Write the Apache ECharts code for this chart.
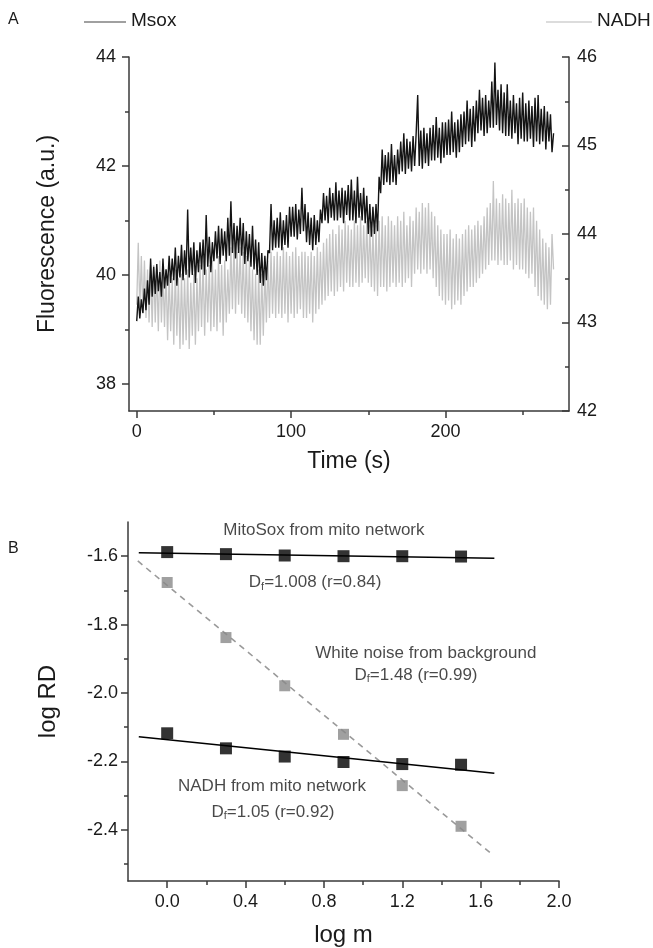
<!DOCTYPE html>
<html><head><meta charset="utf-8">
<script src="https://cdn.jsdelivr.net/npm/echarts@6/dist/echarts.min.js"></script>
<style>html,body{margin:0;padding:0;background:#fff}#c{width:653px;height:948px}</style>
</head><body><div id="c"></div>
<script>
// ---------- Panel A data (one value per second, t = 0..270 s) ----------
const msoxValues = [
39.15,39.6,39.2,39.55,39.3,39.75,39.35,39.9,39.45,40.3,
39.6,40.15,39.65,40.2,39.7,40.05,39.6,40.3,39.75,40.1,
39.8,40.35,39.85,40.3,39.9,40.5,39.8,40.35,39.95,40.55,
39.9,40.45,40.0,41.2,39.95,40.5,40.0,40.6,39.85,40.45,
40.05,40.6,40.1,40.65,40.0,41.1,40.15,40.7,40.05,40.6,
40.25,40.8,40.3,40.9,40.2,40.85,40.35,40.8,40.25,41.05,
40.35,41.35,40.4,40.95,40.3,40.9,40.4,41.05,40.35,40.95,
40.2,40.8,40.25,40.75,40.15,40.9,40.1,40.65,40.0,40.6,
39.85,40.4,39.8,40.35,39.9,40.45,40.4,41.3,40.45,41.0,
40.5,41.05,40.5,41.15,40.45,41.0,40.55,41.1,40.5,41.25,
40.7,41.25,40.7,41.3,40.65,41.2,40.75,41.6,40.8,41.3,
40.6,41.15,40.55,41.05,40.45,41.1,40.55,41.0,40.6,41.2,
40.95,41.5,41.0,41.45,40.95,41.6,41.05,41.5,41.0,41.7,
41.0,41.55,41.05,41.6,40.95,41.55,41.1,41.65,41.0,41.75,
41.0,41.55,40.95,41.8,41.05,41.5,41.0,41.6,40.95,41.45,
40.75,41.3,40.7,41.25,40.75,41.3,40.8,41.8,41.5,42.3,
41.65,42.2,41.7,42.25,41.65,42.4,41.7,42.2,41.65,42.3,
41.85,42.45,41.9,42.6,41.85,42.5,41.95,42.45,41.9,42.55,
42.0,42.6,43.3,42.0,42.65,41.95,42.7,42.05,42.6,42.0,
42.7,42.1,42.75,42.1,42.9,42.15,42.7,42.05,42.8,42.15,
42.8,42.2,42.85,42.2,43.0,42.25,42.8,42.15,42.85,42.25,
42.95,42.35,43.0,42.4,43.2,42.45,43.05,42.35,43.1,42.45,
43.2,42.6,43.4,42.65,43.25,42.55,43.3,42.6,43.2,42.7,
43.55,42.7,43.9,42.75,43.4,42.65,43.5,42.6,43.35,42.55,
43.5,42.55,43.2,42.5,43.3,42.6,43.15,42.4,43.25,42.5,
43.35,42.45,43.15,42.45,43.2,42.5,43.1,42.35,43.25,42.45,
43.3,42.4,43.05,42.45,43.1,42.3,43.0,42.45,42.95,42.25,42.6
];
const nadhValues = [
43.2,43.9,43.15,43.75,43.1,43.7,43.05,43.6,43.0,43.65,
42.95,43.65,43.0,43.6,42.9,43.7,43.0,43.55,42.95,43.6,
42.8,43.55,42.9,43.5,42.75,43.6,42.85,43.5,42.7,43.55,
42.75,43.5,42.8,43.6,42.7,43.45,42.85,43.55,42.75,43.5,
42.9,43.65,42.95,43.7,42.85,43.6,43.0,43.65,42.9,43.7,
42.95,43.6,42.9,43.75,43.0,43.65,42.85,43.7,43.0,43.6,
43.1,43.85,43.15,43.9,43.1,43.8,43.2,43.85,43.1,43.8,
43.05,43.75,43.0,43.7,42.9,43.6,42.8,43.55,42.75,43.6,
42.75,43.55,42.85,43.6,43.0,43.7,43.05,43.8,43.1,43.75,
43.05,43.8,43.1,43.75,43.05,43.85,43.1,43.8,43.0,43.75,
43.1,43.8,43.05,43.85,43.1,43.75,43.15,43.8,43.05,43.8,
43.05,43.75,43.1,43.8,43.0,43.75,43.1,43.85,43.15,43.8,
43.2,43.9,43.25,43.95,43.3,44.0,43.35,44.05,43.3,44.0,
43.35,44.1,43.4,44.05,43.35,44.15,43.45,44.1,43.4,44.05,
43.4,44.15,43.45,44.1,43.4,44.2,43.45,44.1,43.5,44.15,
43.45,44.1,43.4,44.05,43.35,44.1,43.3,44.15,43.4,44.2,
43.4,44.1,43.35,44.2,43.4,44.15,43.45,44.1,43.4,44.2,
43.45,44.15,43.4,44.25,43.45,44.1,43.5,44.2,43.4,44.15,
43.55,44.3,43.6,44.25,43.55,44.35,43.6,44.3,43.55,44.35,
43.6,44.25,43.5,44.2,43.4,44.1,43.3,44.05,43.25,44.0,
43.2,44.0,43.25,44.05,43.15,43.95,43.2,44.0,43.25,43.95,
43.2,44.0,43.3,44.05,43.35,44.1,43.4,44.05,43.4,44.1,
43.45,44.15,43.5,44.1,43.55,44.2,43.6,44.3,43.65,44.35,
43.7,44.6,43.7,44.4,43.65,44.35,43.7,44.45,43.65,44.4,
43.65,44.35,43.7,44.5,43.6,44.35,43.65,44.4,43.6,44.35,
43.6,44.4,43.55,44.3,43.5,44.25,43.55,44.3,43.4,44.15,
43.3,44.05,43.25,43.95,43.2,43.9,43.15,43.85,43.2,44.0,43.6
];
const timeTicksMajor = [0, 100, 200];
const timeTicksMinor = [50, 150, 250];
const leftTicksMajor = [38, 40, 42, 44];
const leftTicksMinor = [39, 41, 43];
const rightTicksMajor = [42, 43, 44, 45, 46];
const rightTicksMinor = [42.5, 43.5, 44.5, 45.5];

// ---------- Panel B data ----------
const logM = [0, 0.3, 0.6, 0.9, 1.2, 1.5];
const mitoSoxRD = [-1.588, -1.594, -1.598, -1.600, -1.600, -1.601];
const whiteNoiseRD = [-1.677, -1.838, -1.979, -2.121, -2.271, -2.390];
const nadhRD = [-2.118, -2.162, -2.186, -2.202, -2.208, -2.210];
const mitoSoxFit = [[-0.145, -1.590], [1.67, -1.606]];
const whiteNoiseFit = [[-0.15, -1.614], [1.65, -2.468]];
const nadhFit = [[-0.145, -2.128], [1.67, -2.235]];
const logMTicksMajor = [0, 0.4, 0.8, 1.2, 1.6, 2.0];
const logMTicksMinor = [0.2, 0.6, 1.0, 1.4, 1.8];
const logRDTicksMajor = [-1.6, -1.8, -2.0, -2.2, -2.4];
const logRDTicksMinor = [-1.7, -1.9, -2.1, -2.3, -2.5];
const annotations = [
  {x: 0.80, y: -1.523, text: 'MitoSox from mito network'},
  {x: 0.755, y: -1.677, text: 'D{s|f}=1.008 (r=0.84)'},
  {x: 1.32, y: -1.883, text: 'White noise from background'},
  {x: 1.27, y: -1.947, text: 'D{s|f}=1.48 (r=0.99)'},
  {x: 0.535, y: -2.272, text: 'NADH from mito network'},
  {x: 0.54, y: -2.348, text: 'D{s|f}=1.05 (r=0.92)'}
];

const FONT = '"Liberation Sans", Arial, Helvetica, sans-serif';
const AX = '#3a3a3a';
const TXT = '#1a1a1a';

const msoxData = msoxValues.map((v, i) => [i, v]);
const nadhData = nadhValues.map((v, i) => [i, v]);
const pts = (ys) => logM.map((x, i) => [x, ys[i]]);

function mainAxis(extra) {
  return Object.assign({
    type: 'value', scale: false,
    axisLine: {show: true, onZero: false, lineStyle: {color: AX, width: 1.5}},
    axisTick: {show: true, length: 7, lineStyle: {color: AX, width: 1.5}},
    axisLabel: {color: TXT, fontSize: 18, fontFamily: FONT},
    splitLine: {show: false},
    nameTextStyle: {color: TXT, fontFamily: FONT}
  }, extra);
}
function minorAxis(extra, ticks, inside) {
  return Object.assign({
    type: 'value',
    axisLine: {show: false, onZero: false},
    axisTick: {show: true, length: 4, inside: !!inside, customValues: ticks, lineStyle: {color: AX, width: 1.5}},
    axisLabel: {show: false},
    splitLine: {show: false}
  }, extra);
}

const chart = echarts.init(document.getElementById('c'), null, {renderer: 'canvas'});
chart.setOption({
  backgroundColor: '#fff',
  animation: false,
  textStyle: {fontFamily: FONT},
  grid: [
    {left: 129, top: 57, width: 440, height: 354},
    {left: 128, top: 522, width: 431, height: 360}
  ],
  xAxis: [
    mainAxis({gridIndex: 0, min: -5, max: 280, position: 'bottom',
      axisTick: {show: true, length: 7, customValues: timeTicksMajor, lineStyle: {color: AX, width: 1.5}},
      axisLabel: {color: TXT, fontSize: 18, fontFamily: FONT, margin: 12, customValues: timeTicksMajor},
      name: 'Time (s)', nameLocation: 'middle', nameGap: 39,
      nameTextStyle: {color: TXT, fontFamily: FONT, fontSize: 23}}),
    minorAxis({gridIndex: 0, min: -5, max: 280, position: 'bottom'}, timeTicksMinor),
    mainAxis({gridIndex: 1, min: -0.2, max: 2.0, position: 'bottom',
      axisTick: {show: true, length: 7, customValues: logMTicksMajor, lineStyle: {color: AX, width: 1.5}},
      axisLabel: {color: TXT, fontSize: 18, fontFamily: FONT, margin: 12, customValues: logMTicksMajor,
        formatter: v => Number(v).toFixed(1)},
      name: 'log m', nameLocation: 'middle', nameGap: 42,
      nameTextStyle: {color: TXT, fontFamily: FONT, fontSize: 24}}),
    minorAxis({gridIndex: 1, min: -0.2, max: 2.0, position: 'bottom'}, logMTicksMinor)
  ],
  yAxis: [
    mainAxis({gridIndex: 0, min: 37.5, max: 44, position: 'left',
      axisTick: {show: true, length: 7, customValues: leftTicksMajor, lineStyle: {color: AX, width: 1.5}},
      axisLabel: {color: TXT, fontSize: 18, fontFamily: FONT, margin: 13, customValues: leftTicksMajor},
      name: 'Fluorescence (a.u.)', nameLocation: 'middle', nameGap: 70,
      nameTextStyle: {color: TXT, fontFamily: FONT, fontSize: 23}}),
    minorAxis({gridIndex: 0, min: 37.5, max: 44, position: 'left'}, leftTicksMinor),
    mainAxis({gridIndex: 0, min: 42, max: 46, position: 'right',
      axisTick: {show: true, inside: true, length: 7, customValues: rightTicksMajor, lineStyle: {color: AX, width: 1.5}},
      axisLabel: {color: TXT, fontSize: 18, fontFamily: FONT, margin: 8, customValues: rightTicksMajor}}),
    minorAxis({gridIndex: 0, min: 42, max: 46, position: 'right'}, rightTicksMinor, true),
    mainAxis({gridIndex: 1, min: -2.55, max: -1.5, position: 'left',
      axisTick: {show: true, length: 7, customValues: logRDTicksMajor, lineStyle: {color: AX, width: 1.5}},
      axisLabel: {color: TXT, fontSize: 18, fontFamily: FONT, margin: 10, customValues: logRDTicksMajor,
        formatter: v => Number(v).toFixed(1)},
      name: 'log RD', nameLocation: 'middle', nameGap: 68,
      nameTextStyle: {color: TXT, fontFamily: FONT, fontSize: 24}}),
    minorAxis({gridIndex: 1, min: -2.55, max: -1.5, position: 'left'}, logRDTicksMinor)
  ],
  graphic: [
    {type: 'text', left: 8, top: 12, style: {text: 'A', fontSize: 16, fontFamily: FONT, fill: TXT}},
    {type: 'text', left: 8, top: 541, style: {text: 'B', fontSize: 16, fontFamily: FONT, fill: TXT}},
    {type: 'line', shape: {x1: 84, y1: 22, x2: 126, y2: 22}, style: {stroke: '#808080', lineWidth: 1.5}},
    {type: 'text', left: 131, top: 11, style: {text: 'Msox', fontSize: 19, fontFamily: FONT, fill: TXT}},
    {type: 'line', shape: {x1: 546, y1: 22, x2: 592, y2: 22}, style: {stroke: '#d0d0d0', lineWidth: 1.5}},
    {type: 'text', left: 597, top: 11, style: {text: 'NADH', fontSize: 19, fontFamily: FONT, fill: TXT}}
  ],
  series: [
    {name: 'NADH', type: 'line', xAxisIndex: 0, yAxisIndex: 2, data: nadhData, showSymbol: false, symbol: 'none',
      lineStyle: {color: '#c4c4c4', width: 1.3}, z: 2, silent: true},
    {name: 'Msox', type: 'line', xAxisIndex: 0, yAxisIndex: 0, data: msoxData, showSymbol: false, symbol: 'none',
      lineStyle: {color: '#141414', width: 1.4}, z: 3, silent: true},
    {name: 'MitoSox fit', type: 'line', xAxisIndex: 2, yAxisIndex: 4, data: mitoSoxFit, symbol: 'none',
      lineStyle: {color: '#000', width: 1.6}, z: 3},
    {name: 'NADH fit', type: 'line', xAxisIndex: 2, yAxisIndex: 4, data: nadhFit, symbol: 'none',
      lineStyle: {color: '#000', width: 1.6}, z: 3},
    {name: 'White noise fit', type: 'line', xAxisIndex: 2, yAxisIndex: 4, data: whiteNoiseFit, symbol: 'none',
      lineStyle: {color: '#9a9a9a', width: 1.6, type: [6, 5]}, z: 2},
    {name: 'MitoSox', type: 'scatter', xAxisIndex: 2, yAxisIndex: 4, data: pts(mitoSoxRD), symbol: 'rect', symbolSize: 12,
      itemStyle: {color: '#000'}, z: 5},
    {name: 'NADH RD', type: 'scatter', xAxisIndex: 2, yAxisIndex: 4, data: pts(nadhRD), symbol: 'rect', symbolSize: 12,
      itemStyle: {color: '#000'}, z: 5},
    {name: 'White noise', type: 'scatter', xAxisIndex: 2, yAxisIndex: 4, data: pts(whiteNoiseRD), symbol: 'rect', symbolSize: 11,
      itemStyle: {color: '#888'}, z: 4},
    {name: 'labels', type: 'scatter', xAxisIndex: 2, yAxisIndex: 4, symbolSize: 1, silent: true,
      itemStyle: {color: 'rgba(0,0,0,0)'}, z: 6,
      data: annotations.map(a => ({value: [a.x, a.y], label: {formatter: a.text}})),
      label: {show: true, position: 'inside', color: TXT, fontSize: 17, fontFamily: FONT, lineHeight: 20,
        rich: {s: {fontSize: 11, fontFamily: FONT, color: TXT, verticalAlign: 'bottom', lineHeight: 6}}}}
  ]
});
</script>
</body></html>
